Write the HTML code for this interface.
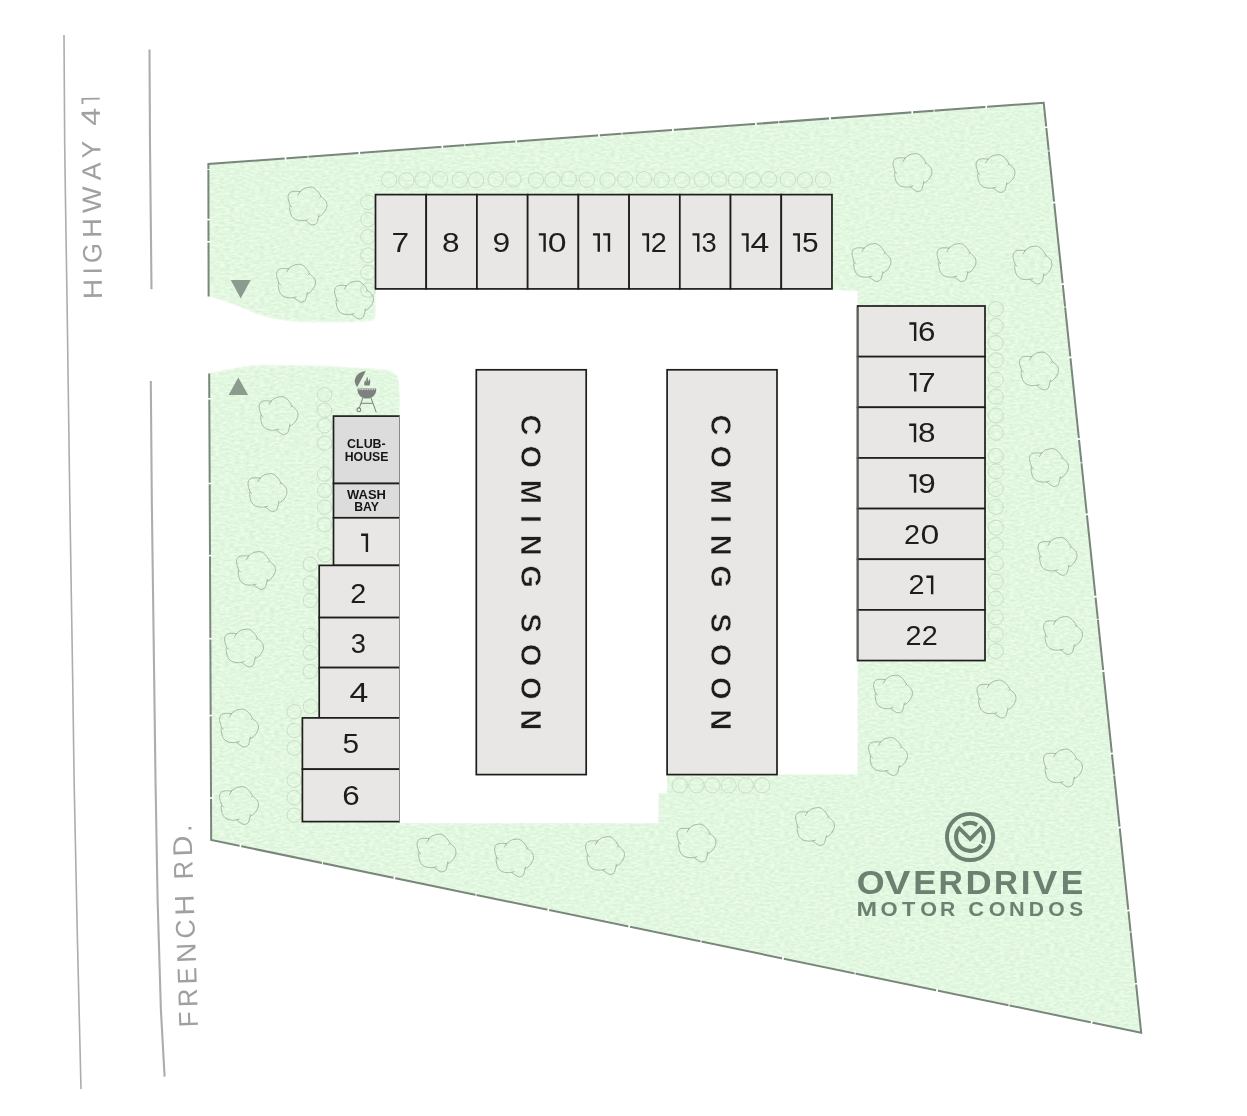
<!DOCTYPE html>
<html><head><meta charset="utf-8"><title>Overdrive Motor Condos - Site Map</title>
<style>html,body{margin:0;padding:0;background:#fff;}body{width:1247px;height:1116px;overflow:hidden;font-family:"Liberation Sans",sans-serif;}svg{display:block;}text{font-family:"Liberation Sans",sans-serif;}</style>
</head><body>
<svg width="1247" height="1116" viewBox="0 0 1247 1116">
<defs>
<filter id="soft" x="-5%" y="-5%" width="110%" height="110%"><feGaussianBlur stdDeviation="1.6"/></filter>
<filter id="tex" x="0" y="0" width="100%" height="100%" color-interpolation-filters="sRGB"><feTurbulence type="fractalNoise" baseFrequency="0.2 0.45" numOctaves="2" seed="5" result="n"/><feColorMatrix in="n" type="matrix" values="0.13 0 0 0 0.823  0.10 0 0 0 0.919  0.13 0 0 0 0.814  0 0 0 0 1"/><feComposite operator="in" in2="SourceGraphic"/></filter>
<path id="tree" d="M-7.47,-14.36 C-6.79,-14.88 -4.83,-16.81 -3.39,-17.53 C-1.96,-18.24 -0.31,-18.47 1.13,-18.66 C2.56,-18.85 3.85,-19.15 5.21,-18.66 C6.57,-18.17 8.15,-16.78 9.28,-15.72 C10.41,-14.66 11.32,-13.33 12.00,-12.32 C12.68,-11.30 13.14,-10.06 13.37,-9.60 C13.89,-9.15 15.62,-7.79 16.52,-6.88 C17.43,-5.98 18.31,-5.30 18.80,-4.17 C19.29,-3.04 19.56,-1.37 19.48,-0.09 C19.40,1.20 18.91,2.32 18.34,3.53 C17.77,4.74 16.98,6.10 16.08,7.15 C15.17,8.21 13.74,9.31 12.91,9.88 C12.08,10.44 11.40,10.44 11.10,10.56 C10.99,11.05 10.72,12.41 10.42,13.50 C10.12,14.59 9.92,16.25 9.28,17.12 C8.64,17.99 7.48,18.45 6.57,18.71 C5.67,18.98 4.83,19.05 3.85,18.71 C2.87,18.37 1.74,17.39 0.68,16.67 C-0.38,15.95 -1.96,14.78 -2.49,14.41 C-3.24,14.44 -5.43,14.78 -7.02,14.63 C-8.60,14.48 -10.57,14.22 -12.00,13.50 C-13.44,12.78 -14.76,11.53 -15.63,10.32 C-16.50,9.11 -16.84,7.68 -17.21,6.25 C-17.59,4.82 -17.87,2.82 -17.89,1.72 C-17.92,0.63 -17.44,0.02 -17.35,-0.32 C-17.59,-1.11 -18.44,-3.68 -18.80,-5.07 C-19.15,-6.47 -19.52,-7.49 -19.48,-8.70 C-19.44,-9.91 -19.21,-11.37 -18.57,-12.32 C-17.92,-13.26 -16.80,-13.96 -15.63,-14.36 C-14.46,-14.75 -12.91,-14.68 -11.55,-14.68 C-10.19,-14.68 -8.15,-14.41 -7.47,-14.36Z M-7.47,-14.36 L-9.52,-10.96 M13.37,-9.60 L12.45,-8.47 M11.10,10.56 L11.32,8.97 M-2.49,14.41 L0.22,13.72 M-17.35,-0.32 L-15.63,1.04"/>
</defs>
<rect width="1247" height="1116" fill="#ffffff"/>
<g opacity="0.999">
<path d="M207.5,163.7 L1043.7,102.5 L1141.4,1033 L211.2,840.2 Z" fill="#e2f7e0"/>
<path d="M207.5,163.7 L1043.7,102.5 L1141.4,1033 L211.2,840.2 Z" fill="#cfe8cd" filter="url(#tex)"/>
<path d="M196,296.8 L208.8,296.8 C225,301 243,308.5 254,313.2 C270,319.6 290,322.2 315,322.7 L350,322.4 L369,321.6 Q375.6,321 375.8,315 L375.8,289.8 L420,289.8 L420,392 L399.6,392 L399.6,384 C399.3,376 394,370.6 385,369.1 L325,365.6 L262,364.4 C245,365 225,369.6 208.8,373.1 L196,373.1 Z" fill="#ffffff" filter="url(#soft)"/>
<path d="M196,296.8 L208.8,296.8 C225,301 243,308.5 254,313.2 C270,319.6 290,322.2 315,322.7 L350,322.4 L369,321.6 Q375.6,321 375.8,315 L375.8,289.8 L420,289.8 L420,392 L399.6,392 L399.6,384 C399.3,376 394,370.6 385,369.1 L325,365.6 L262,364.4 C245,365 225,369.6 208.8,373.1 L196,373.1 Z" fill="#ffffff"/>
<path d="M376.5,289.8 L832.5,289.8 L857.6,291 L857.6,774.6 L667,774.6 L667,793 L658.4,793 L658.4,823.3 L399.6,823.3 L399.6,372 L376.5,340 Z" fill="#ffffff"/>
<rect x="190" y="297" width="17.6" height="76.5" fill="#ffffff"/>
<g fill="none" stroke="#78877a" stroke-width="2.0" stroke-linecap="butt" stroke-linejoin="miter">
<path d="M208.6,296.5 L208.4,164 L1043.7,102.7 L1141.2,1032.8 L211.2,840 L209.2,373.6"/>
</g>
<g stroke="#ffffff" stroke-width="1.6">
<line x1="285.4" y1="155.9" x2="285.6" y2="160.7" stroke-width="1.7"/>
<line x1="307.9" y1="154.3" x2="308.1" y2="159.1" stroke-width="0.8"/>
<line x1="359.2" y1="150.5" x2="359.4" y2="155.3" stroke-width="1.7"/>
<line x1="442.2" y1="144.4" x2="442.5" y2="149.2" stroke-width="1.7"/>
<line x1="464.7" y1="142.8" x2="464.9" y2="147.6" stroke-width="0.8"/>
<line x1="516.1" y1="139.0" x2="516.4" y2="143.8" stroke-width="1.7"/>
<line x1="598.9" y1="132.9" x2="599.1" y2="137.7" stroke-width="1.7"/>
<line x1="621.9" y1="131.3" x2="622.1" y2="136.1" stroke-width="0.8"/>
<line x1="672.8" y1="127.5" x2="673.0" y2="132.3" stroke-width="1.7"/>
<line x1="755.8" y1="121.4" x2="756.0" y2="126.2" stroke-width="1.7"/>
<line x1="778.6" y1="119.8" x2="778.9" y2="124.6" stroke-width="0.8"/>
<line x1="829.9" y1="116.0" x2="830.1" y2="120.8" stroke-width="1.7"/>
<line x1="912.1" y1="110.0" x2="912.4" y2="114.8" stroke-width="1.7"/>
<line x1="933.9" y1="108.4" x2="934.1" y2="113.2" stroke-width="0.8"/>
<line x1="986.1" y1="104.5" x2="986.4" y2="109.3" stroke-width="1.7"/>
<line x1="1043.8" y1="127.5" x2="1048.8" y2="127.0" stroke-width="1.7"/>
<line x1="1046.3" y1="151.2" x2="1051.3" y2="150.7" stroke-width="0.8"/>
<line x1="1051.7" y1="202.8" x2="1056.7" y2="202.2" stroke-width="1.7"/>
<line x1="1060.2" y1="284.4" x2="1065.2" y2="283.9" stroke-width="1.7"/>
<line x1="1062.6" y1="307.2" x2="1067.6" y2="306.8" stroke-width="0.8"/>
<line x1="1067.9" y1="357.6" x2="1072.9" y2="357.1" stroke-width="1.7"/>
<line x1="1076.5" y1="439.2" x2="1081.5" y2="438.8" stroke-width="1.7"/>
<line x1="1078.9" y1="463.1" x2="1083.9" y2="462.6" stroke-width="0.8"/>
<line x1="1084.4" y1="514.6" x2="1089.4" y2="514.1" stroke-width="1.7"/>
<line x1="1093.0" y1="596.9" x2="1098.0" y2="596.4" stroke-width="1.7"/>
<line x1="1095.4" y1="619.6" x2="1100.4" y2="619.1" stroke-width="0.8"/>
<line x1="1100.8" y1="671.2" x2="1105.8" y2="670.8" stroke-width="1.7"/>
<line x1="1109.4" y1="753.8" x2="1114.4" y2="753.2" stroke-width="1.7"/>
<line x1="1111.7" y1="775.2" x2="1116.7" y2="774.8" stroke-width="0.8"/>
<line x1="1117.2" y1="827.8" x2="1122.2" y2="827.2" stroke-width="1.7"/>
<line x1="1125.9" y1="910.8" x2="1130.9" y2="910.2" stroke-width="1.7"/>
<line x1="1128.1" y1="932.2" x2="1133.1" y2="931.8" stroke-width="0.8"/>
<line x1="1133.6" y1="984.0" x2="1138.6" y2="983.5" stroke-width="1.7"/>
<line x1="240.9" y1="843.6" x2="239.9" y2="848.6" stroke-width="1.7"/>
<line x1="322.9" y1="860.6" x2="321.9" y2="865.6" stroke-width="1.0"/>
<line x1="394.9" y1="875.5" x2="393.9" y2="880.5" stroke-width="1.7"/>
<line x1="476.5" y1="892.4" x2="475.5" y2="897.4" stroke-width="1.0"/>
<line x1="548.8" y1="907.4" x2="547.8" y2="912.4" stroke-width="1.7"/>
<line x1="629.7" y1="924.2" x2="628.7" y2="929.2" stroke-width="1.7"/>
<line x1="701.5" y1="939.0" x2="700.5" y2="944.0" stroke-width="1.0"/>
<line x1="783.5" y1="956.0" x2="782.5" y2="961.0" stroke-width="1.7"/>
<line x1="855.5" y1="971.0" x2="854.5" y2="976.0" stroke-width="1.0"/>
<line x1="937.5" y1="988.0" x2="936.5" y2="993.0" stroke-width="1.7"/>
<line x1="1009.5" y1="1002.9" x2="1008.5" y2="1007.9" stroke-width="1.0"/>
<line x1="1092.1" y1="1020.0" x2="1091.1" y2="1025.0" stroke-width="1.7"/>
<line x1="206.2" y1="169.5" x2="211.0" y2="169.5" stroke-width="0.8"/>
<line x1="206.2" y1="219.6" x2="211.0" y2="219.6" stroke-width="1.6"/>
<line x1="206.2" y1="241.8" x2="211.0" y2="241.8" stroke-width="1.6"/>
<line x1="206.9" y1="398.8" x2="211.7" y2="398.8" stroke-width="1.6"/>
<line x1="207.3" y1="483.5" x2="212.1" y2="483.5" stroke-width="1.6"/>
<line x1="207.6" y1="555.6" x2="212.4" y2="555.6" stroke-width="1.6"/>
<line x1="207.9" y1="638.7" x2="212.7" y2="638.7" stroke-width="1.6"/>
<line x1="208.3" y1="715.5" x2="213.1" y2="715.5" stroke-width="1.6"/>
<line x1="208.6" y1="798.0" x2="213.4" y2="798.0" stroke-width="1.6"/>
</g>
<g fill="none" stroke="#c3d6c2" stroke-width="0.8">
<circle cx="389.2" cy="179.7" r="7.7"/>
<circle cx="406.3" cy="180.2" r="7.7"/>
<circle cx="422.6" cy="179.6" r="7.7"/>
<circle cx="440.0" cy="179.2" r="7.7"/>
<circle cx="459.8" cy="179.9" r="7.7"/>
<circle cx="476.0" cy="180.1" r="7.7"/>
<circle cx="495.7" cy="179.4" r="7.7"/>
<circle cx="513.4" cy="179.4" r="7.7"/>
<circle cx="536.0" cy="180.1" r="7.7"/>
<circle cx="552.5" cy="179.9" r="7.7"/>
<circle cx="568.8" cy="179.2" r="7.7"/>
<circle cx="587.0" cy="179.6" r="7.7"/>
<circle cx="607.6" cy="180.2" r="7.7"/>
<circle cx="625.1" cy="179.6" r="7.7"/>
<circle cx="644.1" cy="179.2" r="7.7"/>
<circle cx="661.6" cy="179.9" r="7.7"/>
<circle cx="682.2" cy="180.1" r="7.7"/>
<circle cx="701.7" cy="179.4" r="7.7"/>
<circle cx="718.9" cy="179.3" r="7.7"/>
<circle cx="736.0" cy="180.1" r="7.7"/>
<circle cx="752.8" cy="180.0" r="7.7"/>
<circle cx="769.0" cy="179.2" r="7.7"/>
<circle cx="787.9" cy="179.6" r="7.7"/>
<circle cx="804.9" cy="180.2" r="7.7"/>
<circle cx="823.0" cy="179.7" r="7.7"/>
<circle cx="368.0" cy="202.3" r="7.3"/>
<circle cx="368.0" cy="219.6" r="7.3"/>
<circle cx="368.0" cy="236.9" r="7.3"/>
<circle cx="368.0" cy="255.2" r="7.3"/>
<circle cx="368.0" cy="272.6" r="7.3"/>
<circle cx="368.0" cy="290.0" r="7.3"/>
<circle cx="324.6" cy="394.7" r="7.2"/>
<circle cx="324.6" cy="410.2" r="7.2"/>
<circle cx="324.6" cy="425.7" r="7.2"/>
<circle cx="324.6" cy="443.2" r="7.2"/>
<circle cx="324.6" cy="474.1" r="7.2"/>
<circle cx="324.6" cy="490.6" r="7.2"/>
<circle cx="324.6" cy="507.1" r="7.2"/>
<circle cx="324.6" cy="524.6" r="7.2"/>
<circle cx="325.0" cy="554.8" r="7.2"/>
<circle cx="310.3" cy="564.2" r="7.2"/>
<circle cx="310.3" cy="583.0" r="7.2"/>
<circle cx="310.3" cy="600.4" r="7.2"/>
<circle cx="310.3" cy="635.3" r="7.2"/>
<circle cx="310.3" cy="652.8" r="7.2"/>
<circle cx="310.3" cy="671.5" r="7.2"/>
<circle cx="310.3" cy="706.4" r="7.2"/>
<circle cx="294.2" cy="711.8" r="7.2"/>
<circle cx="294.2" cy="730.6" r="7.2"/>
<circle cx="294.2" cy="748.0" r="7.2"/>
<circle cx="294.2" cy="780.3" r="7.2"/>
<circle cx="294.2" cy="797.7" r="7.2"/>
<circle cx="294.2" cy="815.2" r="7.2"/>
<circle cx="995.8" cy="309.0" r="7.5"/>
<circle cx="995.8" cy="326.0" r="7.5"/>
<circle cx="995.8" cy="343.0" r="7.5"/>
<circle cx="995.8" cy="360.2" r="7.5"/>
<circle cx="995.8" cy="379.6" r="7.5"/>
<circle cx="995.8" cy="396.7" r="7.5"/>
<circle cx="995.8" cy="415.5" r="7.5"/>
<circle cx="995.8" cy="432.8" r="7.5"/>
<circle cx="995.8" cy="455.8" r="7.5"/>
<circle cx="995.8" cy="471.5" r="7.5"/>
<circle cx="995.8" cy="489.0" r="7.5"/>
<circle cx="995.8" cy="506.9" r="7.5"/>
<circle cx="995.8" cy="527.6" r="7.5"/>
<circle cx="995.8" cy="545.1" r="7.5"/>
<circle cx="995.8" cy="563.5" r="7.5"/>
<circle cx="995.8" cy="581.5" r="7.5"/>
<circle cx="995.8" cy="598.6" r="7.5"/>
<circle cx="995.8" cy="617.4" r="7.5"/>
<circle cx="995.8" cy="634.5" r="7.5"/>
<circle cx="995.8" cy="651.1" r="7.5"/>
<circle cx="679.7" cy="785.4" r="7.6"/>
<circle cx="696.4" cy="785.4" r="7.6"/>
<circle cx="712.4" cy="785.4" r="7.6"/>
<circle cx="728.7" cy="785.4" r="7.6"/>
<circle cx="745.8" cy="785.4" r="7.6"/>
<circle cx="762.1" cy="785.4" r="7.6"/>
</g>
<g fill="none" stroke="#9cb09b" stroke-width="0.85" stroke-linecap="round">
<use href="#tree" x="307.5" y="206.0"/>
<use href="#tree" x="296.0" y="283.2"/>
<use href="#tree" x="354.0" y="300.0"/>
<use href="#tree" x="278.5" y="415.5"/>
<use href="#tree" x="267.5" y="492.5"/>
<use href="#tree" x="256.0" y="570.5"/>
<use href="#tree" x="244.0" y="648.0"/>
<use href="#tree" x="239.0" y="728.0"/>
<use href="#tree" x="239.0" y="805.5"/>
<use href="#tree" x="436.5" y="853.0"/>
<use href="#tree" x="514.0" y="858.0"/>
<use href="#tree" x="605.0" y="855.5"/>
<use href="#tree" x="696.5" y="843.0"/>
<use href="#tree" x="815.0" y="826.5"/>
<use href="#tree" x="888.0" y="756.5"/>
<use href="#tree" x="893.0" y="694.0"/>
<use href="#tree" x="996.5" y="699.0"/>
<use href="#tree" x="1063.0" y="768.0"/>
<use href="#tree" x="1063.0" y="635.5"/>
<use href="#tree" x="1057.5" y="556.3"/>
<use href="#tree" x="1049.0" y="467.5"/>
<use href="#tree" x="1039.0" y="371.0"/>
<use href="#tree" x="1032.5" y="265.0"/>
<use href="#tree" x="956.5" y="262.5"/>
<use href="#tree" x="871.5" y="262.5"/>
<use href="#tree" x="912.5" y="172.5"/>
<use href="#tree" x="995.5" y="173.5"/>
</g>
<g fill="#e9e7e5" stroke="#1d1d1b" stroke-width="1.7">
<rect x="375.50" y="194.6" width="50.72" height="94.3"/>
<rect x="426.22" y="194.6" width="50.72" height="94.3"/>
<rect x="476.94" y="194.6" width="50.72" height="94.3"/>
<rect x="527.66" y="194.6" width="50.72" height="94.3"/>
<rect x="578.38" y="194.6" width="50.72" height="94.3"/>
<rect x="629.10" y="194.6" width="50.72" height="94.3"/>
<rect x="679.82" y="194.6" width="50.72" height="94.3"/>
<rect x="730.54" y="194.6" width="50.72" height="94.3"/>
<rect x="781.26" y="194.6" width="50.72" height="94.3"/>
<rect x="857.6" y="306.00" width="127.4" height="50.65"/>
<rect x="857.6" y="356.65" width="127.4" height="50.65"/>
<rect x="857.6" y="407.30" width="127.4" height="50.65"/>
<rect x="857.6" y="457.95" width="127.4" height="50.65"/>
<rect x="857.6" y="508.60" width="127.4" height="50.65"/>
<rect x="857.6" y="559.25" width="127.4" height="50.65"/>
<rect x="857.6" y="609.90" width="127.4" height="50.65"/>
<rect x="333.5" y="416.1" width="68.5" height="67.4" fill="#dcdcdc"/>
<rect x="333.5" y="483.5" width="68.5" height="34.3" fill="#dcdcdc"/>
<rect x="333.5" y="517.8" width="68.5" height="47.6"/>
<rect x="319.2" y="565.4" width="82.8" height="52.2"/>
<rect x="319.2" y="617.6" width="82.8" height="50.0"/>
<rect x="319.2" y="667.6" width="82.8" height="50.3"/>
<rect x="302.4" y="717.9" width="99.6" height="51.3"/>
<rect x="302.4" y="769.2" width="99.6" height="52.4"/>
<rect x="399.95" y="412" width="4" height="411.3" fill="#ffffff" stroke="none"/>
<rect x="399.0" y="415.3" width="0.95" height="407.1" fill="#858585" stroke="none"/>
<line x1="857.6" y1="306.9" x2="857.6" y2="659.7" stroke="#5c5c5a" stroke-width="1.7"/>
<rect x="476.3" y="369.8" width="109.9" height="404.8"/>
<rect x="667.1" y="369.8" width="109.9" height="404.8"/>
</g>
<text transform="translate(391.39,251.80) scale(1.182,1)" font-size="26.8" fill="#1d1d1b">7</text>
<text transform="translate(441.92,251.80) scale(1.177,1)" font-size="26.8" fill="#1d1d1b">8</text>
<text transform="translate(492.60,251.80) scale(1.188,1)" font-size="26.8" fill="#1d1d1b">9</text>
<path d="M538.80,234.40 H544.60 V251.80" fill="none" stroke="#1d1d1b" stroke-width="2.4" stroke-linejoin="miter"/>
<text transform="translate(547.65,251.80) scale(1.261,1)" font-size="26.8" fill="#1d1d1b">0</text>
<path d="M592.95,234.40 H598.75 V251.80" fill="none" stroke="#1d1d1b" stroke-width="2.4" stroke-linejoin="miter"/>
<path d="M603.15,234.40 H608.95 V251.80" fill="none" stroke="#1d1d1b" stroke-width="2.4" stroke-linejoin="miter"/>
<path d="M642.10,234.40 H647.90 V251.80" fill="none" stroke="#1d1d1b" stroke-width="2.4" stroke-linejoin="miter"/>
<text transform="translate(650.83,251.80) scale(1.075,1)" font-size="26.8" fill="#1d1d1b">2</text>
<path d="M692.45,234.40 H698.25 V251.80" fill="none" stroke="#1d1d1b" stroke-width="2.4" stroke-linejoin="miter"/>
<text transform="translate(701.56,251.80) scale(1.018,1)" font-size="26.8" fill="#1d1d1b">3</text>
<path d="M741.65,234.40 H747.45 V251.80" fill="none" stroke="#1d1d1b" stroke-width="2.4" stroke-linejoin="miter"/>
<text transform="translate(750.51,251.80) scale(1.262,1)" font-size="26.8" fill="#1d1d1b">4</text>
<path d="M792.95,234.40 H798.75 V251.80" fill="none" stroke="#1d1d1b" stroke-width="2.4" stroke-linejoin="miter"/>
<text transform="translate(801.96,251.80) scale(1.113,1)" font-size="26.8" fill="#1d1d1b">5</text>
<path d="M909.35,323.50 H915.15 V340.90" fill="none" stroke="#1d1d1b" stroke-width="2.4" stroke-linejoin="miter"/>
<text transform="translate(917.95,340.90) scale(1.172,1)" font-size="26.8" fill="#1d1d1b">6</text>
<path d="M909.40,374.15 H915.20 V391.55" fill="none" stroke="#1d1d1b" stroke-width="2.4" stroke-linejoin="miter"/>
<text transform="translate(917.99,391.55) scale(1.182,1)" font-size="26.8" fill="#1d1d1b">7</text>
<path d="M909.20,424.80 H915.00 V442.20" fill="none" stroke="#1d1d1b" stroke-width="2.4" stroke-linejoin="miter"/>
<text transform="translate(918.02,442.20) scale(1.177,1)" font-size="26.8" fill="#1d1d1b">8</text>
<path d="M909.25,475.45 H915.05 V492.85" fill="none" stroke="#1d1d1b" stroke-width="2.4" stroke-linejoin="miter"/>
<text transform="translate(917.95,492.85) scale(1.188,1)" font-size="26.8" fill="#1d1d1b">9</text>
<text transform="translate(904.03,543.50) scale(1.075,1)" font-size="26.8" fill="#1d1d1b">2</text>
<text transform="translate(920.45,543.50) scale(1.261,1)" font-size="26.8" fill="#1d1d1b">0</text>
<text transform="translate(908.58,594.15) scale(1.075,1)" font-size="26.8" fill="#1d1d1b">2</text>
<path d="M926.35,576.75 H932.15 V594.15" fill="none" stroke="#1d1d1b" stroke-width="2.4" stroke-linejoin="miter"/>
<text transform="translate(905.53,644.80) scale(1.075,1)" font-size="26.8" fill="#1d1d1b">2</text>
<text transform="translate(921.83,644.80) scale(1.075,1)" font-size="26.8" fill="#1d1d1b">2</text>
<path d="M361.10,534.70 H366.90 V552.10" fill="none" stroke="#1d1d1b" stroke-width="2.4" stroke-linejoin="miter"/>
<text transform="translate(350.28,602.60) scale(1.075,1)" font-size="26.8" fill="#1d1d1b">2</text>
<text transform="translate(350.86,653.40) scale(1.018,1)" font-size="26.8" fill="#1d1d1b">3</text>
<text transform="translate(349.61,702.20) scale(1.262,1)" font-size="26.8" fill="#1d1d1b">4</text>
<text transform="translate(342.56,753.30) scale(1.113,1)" font-size="26.8" fill="#1d1d1b">5</text>
<text transform="translate(342.15,805.10) scale(1.172,1)" font-size="26.8" fill="#1d1d1b">6</text>
<g fill="#161616" font-size="12.2" font-weight="bold" text-anchor="middle">
<text x="366.4" y="447.6" textLength="38.6" lengthAdjust="spacingAndGlyphs">CLUB-</text><text x="366.6" y="461" textLength="43.7" lengthAdjust="spacingAndGlyphs">HOUSE</text>
<text x="366.5" y="498.6" textLength="38.9" lengthAdjust="spacingAndGlyphs">WASH</text><text x="366.6" y="511.2" textLength="24.8" lengthAdjust="spacingAndGlyphs">BAY</text>
</g>
<g fill="#1d1d1b" font-size="29" font-weight="bold" text-anchor="middle" stroke="#e9e7e5" stroke-width="0.55">
<text transform="translate(520.9,424.9) rotate(90)" x="0" y="0">C</text>
<text transform="translate(520.9,456.8) rotate(90)" x="0" y="0">O</text>
<text transform="translate(520.9,491.9) rotate(90)" x="0" y="0">M</text>
<text transform="translate(520.9,519.1) rotate(90)" x="0" y="0">I</text>
<text transform="translate(520.9,545.1) rotate(90)" x="0" y="0">N</text>
<text transform="translate(520.9,576.6) rotate(90)" x="0" y="0">G</text>
<text transform="translate(520.9,622.8) rotate(90)" x="0" y="0">S</text>
<text transform="translate(520.9,655.1) rotate(90)" x="0" y="0">O</text>
<text transform="translate(520.9,688.2) rotate(90)" x="0" y="0">O</text>
<text transform="translate(520.9,719.7) rotate(90)" x="0" y="0">N</text>
</g>
<g fill="#1d1d1b" font-size="29" font-weight="bold" text-anchor="middle" stroke="#e9e7e5" stroke-width="0.55">
<text transform="translate(711.2,424.9) rotate(90)" x="0" y="0">C</text>
<text transform="translate(711.2,456.8) rotate(90)" x="0" y="0">O</text>
<text transform="translate(711.2,491.9) rotate(90)" x="0" y="0">M</text>
<text transform="translate(711.2,519.1) rotate(90)" x="0" y="0">I</text>
<text transform="translate(711.2,545.1) rotate(90)" x="0" y="0">N</text>
<text transform="translate(711.2,576.6) rotate(90)" x="0" y="0">G</text>
<text transform="translate(711.2,622.8) rotate(90)" x="0" y="0">S</text>
<text transform="translate(711.2,655.1) rotate(90)" x="0" y="0">O</text>
<text transform="translate(711.2,688.2) rotate(90)" x="0" y="0">O</text>
<text transform="translate(711.2,719.7) rotate(90)" x="0" y="0">N</text>
</g>
<polygon points="230.8,279.9 250.7,279.9 240.7,298.5" fill="#8b9b8d"/>
<polygon points="228.6,395 248.1,395 238.3,377.5" fill="#8b9b8d"/>
<g fill="#7d827e" stroke="none">
<path d="M365.8,371.1 C358,371.5 353.2,378.5 355.2,383.5 C355.8,385.4 356.6,386.6 357.3,386.9 Z"/>
<path d="M367.2,376.8 C368.6,379 367.6,380.2 368.6,381.6 C369,380.4 369.4,379.6 369.2,378.6 C370.8,380.6 370.6,383.6 369.4,385.4 L364.6,385.4 C363.6,383.6 364.4,381.4 365.6,380.2 C365.8,381.2 366,381.8 366.4,382.2 C366.2,380.2 366.2,378.4 367.2,376.8 Z"/>
<path d="M357.4,388.4 L376.3,388.4 C376.6,394 372.6,398.5 366.9,398.5 C361.2,398.5 357,394 357.4,388.4 Z"/>
</g>
<line x1="358.6" y1="389.6" x2="375.2" y2="389.6" stroke="#d9e4d6" stroke-width="1" stroke-dasharray="1 0.7"/>
<g stroke="#7d827e" stroke-width="1" fill="none" stroke-linecap="round">
<line x1="362.8" y1="398" x2="359.3" y2="408"/><line x1="371" y1="398" x2="376.1" y2="411.8"/><line x1="361.2" y1="403.3" x2="372.6" y2="403.3"/>
<circle cx="358.9" cy="409.8" r="1.9" stroke-width="1.1"/>
</g>
<g fill="none" stroke="#adadad" stroke-linejoin="round">
<polyline points="64,35 64.7,145 65.4,195 67.1,305 69.8,500 72.7,680 74.1,780 77.2,930 81,1089" stroke-width="1.6"/>
<polyline points="149.5,49.5 150,145 151.5,289.3" stroke-width="2.1"/>
<polyline points="150.8,381 151.8,500 154.2,680 155.5,780 157.6,900 160.9,1010 164.6,1076.6" stroke-width="2.1"/>
</g>
<path transform="translate(99.80,100.75) rotate(-90.64)" d="M-3.05,-17.35 H2.10 V0" fill="none" stroke="#a0a0a0" stroke-width="1.9"/>
<text transform="translate(99.98,116.85) rotate(-90.64) translate(-8.96,0) scale(1.229,1)" font-size="26.52" fill="#a0a0a0">4</text>
<text transform="translate(100.34,149.45) rotate(-90.64) translate(-8.81,0) scale(0.991,1)" font-size="26.52" fill="#a0a0a0">Y</text>
<text transform="translate(100.59,171.35) rotate(-90.64) translate(-8.98,0) scale(1.011,1)" font-size="26.52" fill="#a0a0a0">A</text>
<text transform="translate(100.90,199.50) rotate(-90.64) translate(-13.44,0) scale(1.073,1)" font-size="26.52" fill="#a0a0a0">W</text>
<text transform="translate(101.22,228.00) rotate(-90.64) translate(-9.77,0) scale(1.023,1)" font-size="26.52" fill="#a0a0a0">H</text>
<text transform="translate(101.50,253.20) rotate(-90.64) translate(-9.68,0) scale(0.967,1)" font-size="26.52" fill="#a0a0a0">G</text>
<text transform="translate(101.70,270.70) rotate(-90.64) translate(-3.47,0) scale(0.953,1)" font-size="26.52" fill="#a0a0a0">I</text>
<text transform="translate(101.90,288.95) rotate(-90.64) translate(-10.09,0) scale(1.057,1)" font-size="26.52" fill="#a0a0a0">H</text>
<text transform="translate(191.32,828.20) rotate(-92.00) translate(-3.76,0) scale(1.010,1)" font-size="27.10" fill="#a0a0a0">.</text>
<text transform="translate(191.90,845.25) rotate(-92.00) translate(-10.98,0) scale(1.073,1)" font-size="27.10" fill="#a0a0a0">D</text>
<text transform="translate(192.72,869.40) rotate(-92.00) translate(-9.64,0) scale(0.943,1)" font-size="27.10" fill="#a0a0a0">R</text>
<text transform="translate(193.93,904.90) rotate(-92.00) translate(-10.41,0) scale(1.067,1)" font-size="27.10" fill="#a0a0a0">H</text>
<text transform="translate(194.74,928.60) rotate(-92.00) translate(-9.73,0) scale(0.984,1)" font-size="27.10" fill="#a0a0a0">C</text>
<text transform="translate(195.56,952.65) rotate(-92.00) translate(-9.96,0) scale(1.021,1)" font-size="27.10" fill="#a0a0a0">N</text>
<text transform="translate(196.32,974.95) rotate(-92.00) translate(-8.99,0) scale(0.941,1)" font-size="27.10" fill="#a0a0a0">E</text>
<text transform="translate(197.07,997.05) rotate(-92.00) translate(-9.71,0) scale(0.949,1)" font-size="27.10" fill="#a0a0a0">R</text>
<text transform="translate(197.81,1018.50) rotate(-92.00) translate(-8.49,0) scale(0.964,1)" font-size="27.10" fill="#a0a0a0">F</text>
<g fill="none" stroke="#6d8172" stroke-linecap="butt">
<circle cx="970.05" cy="836.95" r="23.1" stroke-width="3.9"/>
<path d="M981.52,844.98 A14.00,14.00 0 0 1 958.31,829.33" stroke-width="4.1"/>
<path d="M980.12,827.22 A14.00,14.00 0 0 1 982.52,843.31" stroke-width="4.1"/>
<path d="M962.84,824.95 A14.00,14.00 0 0 1 977.26,824.95" stroke-width="4.1"/>
<path d="M958.0,826.9 L970.15,839.05 L982.3,826.9" stroke-width="3.7" stroke-linejoin="miter"/>
</g>
<text transform="translate(856.77,893.90) scale(1.104,1)" font-size="32.46" font-weight="bold" fill="#6d8172">O</text>
<text transform="translate(884.21,893.90) scale(1.208,1)" font-size="32.46" font-weight="bold" fill="#6d8172">V</text>
<text transform="translate(913.15,893.90) scale(1.069,1)" font-size="32.46" font-weight="bold" fill="#6d8172">E</text>
<text transform="translate(938.51,893.90) scale(1.038,1)" font-size="32.46" font-weight="bold" fill="#6d8172">R</text>
<text transform="translate(965.44,893.90) scale(1.117,1)" font-size="32.46" font-weight="bold" fill="#6d8172">D</text>
<text transform="translate(993.95,893.90) scale(1.019,1)" font-size="32.46" font-weight="bold" fill="#6d8172">R</text>
<text transform="translate(1020.81,893.90) scale(1.083,1)" font-size="32.46" font-weight="bold" fill="#6d8172">I</text>
<text transform="translate(1032.83,893.90) scale(1.137,1)" font-size="32.46" font-weight="bold" fill="#6d8172">V</text>
<text transform="translate(1060.80,893.90) scale(1.041,1)" font-size="32.46" font-weight="bold" fill="#6d8172">E</text>
<text transform="translate(856.39,915.90) scale(1.236,1)" font-size="20.00" font-weight="bold" fill="#6d8172">M</text>
<text transform="translate(880.42,915.90) scale(1.101,1)" font-size="20.00" font-weight="bold" fill="#6d8172">O</text>
<text transform="translate(901.88,915.90) scale(1.093,1)" font-size="20.00" font-weight="bold" fill="#6d8172">T</text>
<text transform="translate(920.14,915.90) scale(1.079,1)" font-size="20.00" font-weight="bold" fill="#6d8172">O</text>
<text transform="translate(940.03,915.90) scale(1.055,1)" font-size="20.00" font-weight="bold" fill="#6d8172">R</text>
<text transform="translate(968.33,915.90) scale(1.092,1)" font-size="20.00" font-weight="bold" fill="#6d8172">C</text>
<text transform="translate(988.74,915.90) scale(1.079,1)" font-size="20.00" font-weight="bold" fill="#6d8172">O</text>
<text transform="translate(1008.89,915.90) scale(1.085,1)" font-size="20.00" font-weight="bold" fill="#6d8172">N</text>
<text transform="translate(1028.63,915.90) scale(1.057,1)" font-size="20.00" font-weight="bold" fill="#6d8172">D</text>
<text transform="translate(1048.15,915.90) scale(1.058,1)" font-size="20.00" font-weight="bold" fill="#6d8172">O</text>
<text transform="translate(1069.17,915.90) scale(1.042,1)" font-size="20.00" font-weight="bold" fill="#6d8172">S</text>
</g>
</svg></body></html>
